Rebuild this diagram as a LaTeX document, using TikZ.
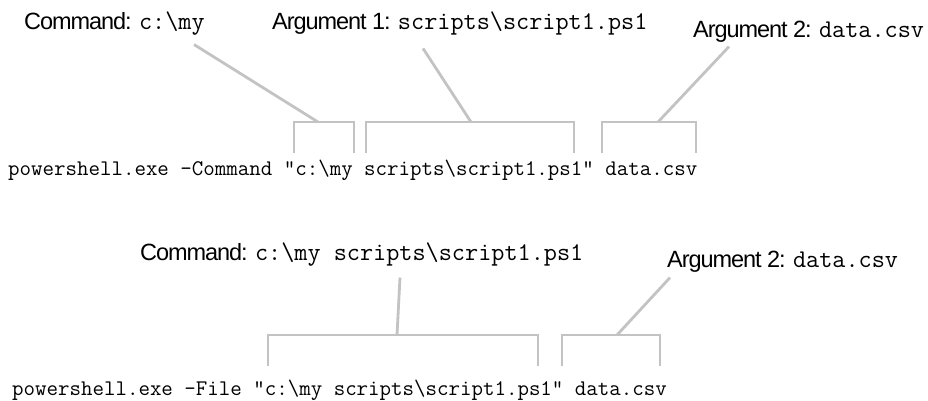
\documentclass[tikz,border=0pt]{standalone}
\usepackage{fontspec}
\setmainfont{Liberation Sans}[LetterSpace=-4.5]
\usepackage{tikz}
\definecolor{BraceGray}{HTML}{C3C3C3}
\newcommand{\bs}{\textbackslash}
\newcommand{\dq}{\char34\relax}
\newcommand{\code}[1]{{\ttfamily\fontsize{25.5}{30}\selectfont #1}}
\tikzset{
  pslabel/.style={inner sep=0pt, anchor=base west, font=\fontsize{23.5}{28}\selectfont},
  psline/.style={inner sep=0pt, anchor=base west, font=\ttfamily\fontsize{22.3}{26}\selectfont},
  psbrace/.style={draw=BraceGray, line width=2.8pt},
  pslead/.style={draw=BraceGray, line width=2.8pt}
}

\begin{document}
\begin{tikzpicture}[x=1pt, y=-1pt]
\useasboundingbox (0,0) rectangle (928,400);
% -Command form
\node[pslabel] (cmdA) at (24,29) {Command: \code{c:\bs my}};
\node[pslabel] (argA1) at (272,29) {Argument 1: \code{scripts\bs script1.ps1}};
\node[pslabel] (argA2) at (693,37) {Argument 2: \code{data.csv}};
\node[psline] (lineA) at (8,175) {powershell.exe -Command \dq c:\bs my scripts\bs script1.ps1\dq{} data.csv};
% -File form
\node[pslabel] (cmdB) at (140,260) {Command: \code{c:\bs my scripts\bs script1.ps1}};
\node[pslabel] (argB2) at (667,267) {Argument 2: \code{data.csv}};
\node[psline] (lineB) at (12,395) {powershell.exe -File \dq c:\bs my scripts\bs script1.ps1\dq{} data.csv};
% brackets over the parts
\foreach \nm/\xl/\xr/\xm/\yt in {brA1/294/354/318/122, brA2/366/574/471/122, brA3/602/696/658/122,
                                 brB1/268/538/397/335, brB2/562/660/617/335}{
  \draw[psbrace] (\xl,\yt+31) |- (\xr,\yt) -- (\xr,\yt+31);
  \coordinate (\nm) at (\xm,\yt);
}
% leaders
\draw[pslead] ([xshift=170pt,yshift=-9.5pt]cmdA.south west) -- (brA1);
\draw[pslead] ([xshift=151pt,yshift=-13.5pt]argA1.south west) -- (brA2);
\draw[pslead] ([xshift=36pt,yshift=-4.5pt]argA2.south west) -- (brA3);
\draw[pslead] ([xshift=260pt,yshift=-11.5pt]cmdB.south west) -- (brB1);
\draw[pslead] ([xshift=3pt,yshift=-5.5pt]argB2.south west) -- (brB2);
\end{tikzpicture}
\end{document}
